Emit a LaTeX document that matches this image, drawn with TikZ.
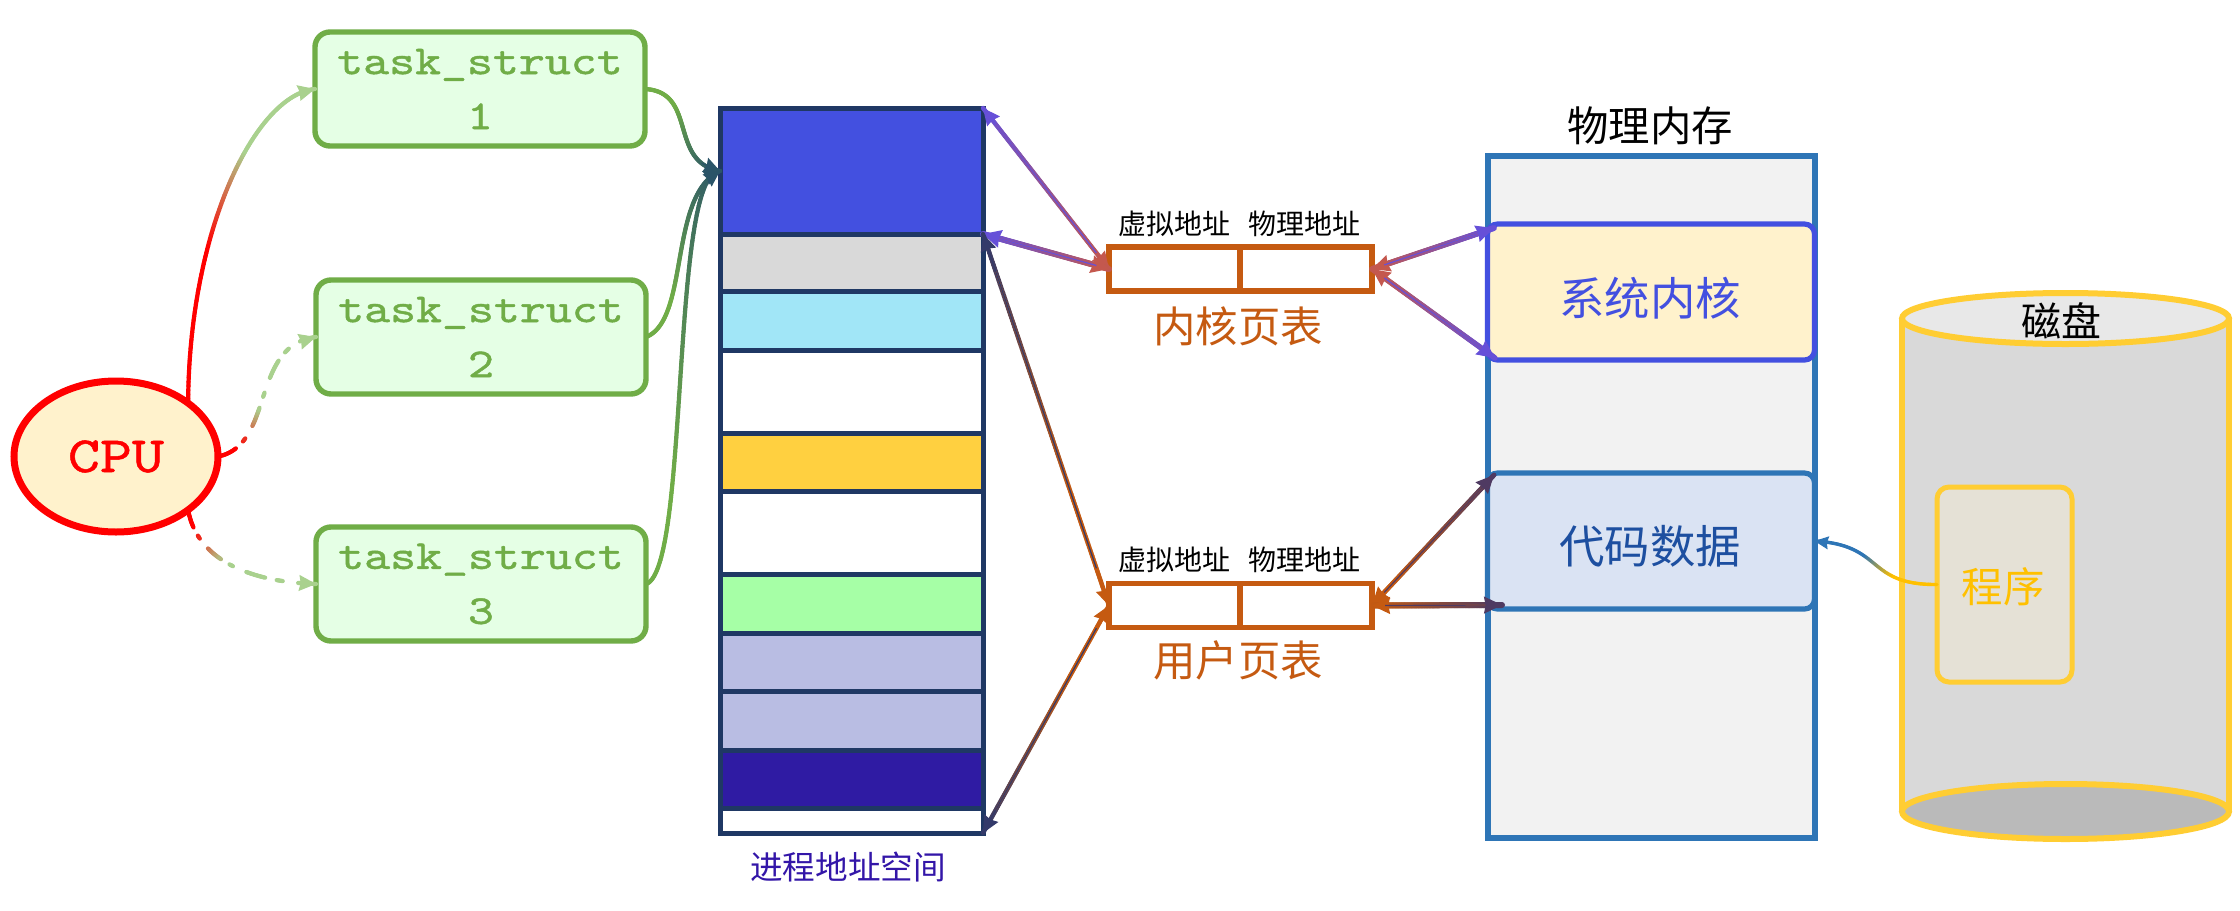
\documentclass[tikz,border=0pt]{standalone}
\usepackage{fontspec}
\setmainfont{Liberation Mono}
\newfontfamily\cjk{Noto Sans CJK SC}
\newfontfamily\slab[FakeStretch=1.2,FakeBold=1,Extension=.otf]{lmmono10-regular}
\usetikzlibrary{shapes.geometric,arrows.meta}
\definecolor{taskgreen}{HTML}{70AD47}
\definecolor{taskfill}{HTML}{E5FFE5}
\definecolor{lightgreen}{HTML}{A9D18E}
\definecolor{cpufill}{HTML}{FFF2CC}
\definecolor{navy}{HTML}{1F3864}
\definecolor{tealend}{HTML}{2A5468}
\definecolor{royal}{HTML}{4350E0}
\definecolor{sky}{HTML}{A1E6F7}
\definecolor{gold}{HTML}{FFD040}
\definecolor{mint}{HTML}{A6FFA6}
\definecolor{lav}{HTML}{B9BDE3}
\definecolor{indigo}{HTML}{2F1BA3}
\definecolor{rust}{HTML}{C55A11}
\definecolor{steel}{HTML}{2E75B6}
\definecolor{memfill}{HTML}{F2F2F2}
\definecolor{codefill}{HTML}{DAE3F3}
\definecolor{codetext}{HTML}{1D4FA0}
\definecolor{diskline}{HTML}{FFCD33}
\definecolor{amber}{HTML}{FFC000}
\definecolor{progfill}{HTML}{E5E1D6}
\definecolor{pinkred}{HTML}{C4584E}
\definecolor{violet}{HTML}{6650D8}
\definecolor{slate}{HTML}{333A6A}
\definecolor{plum}{HTML}{4F3A62}
\definecolor{labelblue}{HTML}{3316A8}
\def\gsteps{120}
% path, colour A, colour B, width, ramp from, ramp to, dash frequency (0 = solid)
\newcommand{\gradcurve}[7]{%
  \foreach \i in {1,...,\gsteps}{%
    \pgfmathsetmacro\ta{(\i-1)/\gsteps}%
    \pgfmathsetmacro\tb{\i/\gsteps}%
    \pgfmathsetmacro\pc{100*min(1,max(0,(\ta-#5)/(#6-#5)))}%
    \pgfmathsetmacro\uu{mod(\ta*#7,1)}%
    \pgfmathsetmacro\vis{(\uu<0.4 || (\uu>0.62 && \uu<0.72)) ? 1 : 0}%
    \ifdim\vis pt>0.5pt
      \path #1 coordinate[pos=\ta] (gA) coordinate[pos=\tb] (gB);
      \draw[color=#3!\pc!#2,line width=#4,line cap=round] (gA)--(gB);
    \fi
  }%
}
% path, pos behind the tip, pos of the tip, colour, tip length, tip width
\newcommand{\gradtip}[6]{%
  \path #1 coordinate[pos=#2] (gA) coordinate[pos=#3] (gB);
  \draw[color=#4,line width=.6pt,-{Stealth[length=#5,width=#6,inset=.8pt]}] (gA)--(gB);
}
% end A, end B, colour at A, colour at B, width, tip length, tip width, ramp from
\newcommand{\gradarrow}[8]{%
  \gradcurve{(#1) -- (#2)}{#3}{#4}{#5}{#8}{1}{0}
  \gradtip{(#1) -- (#2)}{.9}{0}{#3}{#6}{#7}
  \gradtip{(#1) -- (#2)}{.1}{1}{#4}{#6}{#7}
}
\tikzset{
  every node/.style={outer sep=0pt,inner sep=0pt},
  taskbox/.style={draw=taskgreen,fill=taskfill,line width=2.7pt,rounded corners=7.5pt,minimum width=165pt,minimum height=57pt,align=center,text=taskgreen,font=\slab\fontsize{20.6}{27.5}\selectfont},
  cell/.style={draw=navy,line width=2.5pt,minimum width=131.5pt},
  ptcell/.style={draw=rust,line width=2.8pt,minimum height=22pt,fill=white},
  addr/.style={font=\cjk\fontsize{14}{14}\selectfont,text=black},
  ptlabel/.style={font=\cjk\fontsize{21.2}{22}\selectfont,text=rust},
  membox/.style={line width=2.6pt,rounded corners=5pt,minimum width=163.5pt,minimum height=68pt},
  memtext/.style={font=\cjk\fontsize{22.7}{24}\selectfont},
}
\begin{document}
\begin{tikzpicture}[x=.5pt,y=-.5pt]
\useasboundingbox[fill=white] (0,0) rectangle (2240,911);
% CPU and tasks
\node[ellipse,draw=red,fill=cpufill,line width=3.5pt,minimum width=102pt,minimum height=75.5pt,text=red,font=\slab\fontsize{25.4}{28}\selectfont] (cpu) at (116,456.5) {CPU};
\node[taskbox] (t1) at (480,89) {task\_struct\\1};
\node[taskbox] (t2) at (481,337) {task\_struct\\2};
\node[taskbox] (t3) at (481,584) {task\_struct\\3};
% address space
\node[cell,fill=royal,minimum height=63pt] (s1) at (851.5,171) {};
\node[cell,fill=black!15,minimum height=28.5pt] (s2) at (851.5,262.5) {};
\node[cell,fill=sky,minimum height=29.5pt] (s3) at (851.5,320.5) {};
\node[cell,fill=white,minimum height=41.5pt] (s4) at (851.5,391.5) {};
\node[cell,fill=gold,minimum height=29pt] (s5) at (851.5,462) {};
\node[cell,fill=white,minimum height=41.5pt] (s6) at (851.5,532.5) {};
\node[cell,fill=mint,minimum height=29.5pt] (s7) at (851.5,603.5) {};
\node[cell,fill=lav,minimum height=29pt] (s8) at (851.5,662) {};
\node[cell,fill=lav,minimum height=29.5pt] (s9) at (851.5,720.5) {};
\node[cell,fill=indigo,minimum height=29pt] (s10) at (851.5,779) {};
\node[cell,fill=white,minimum height=12.5pt] (s11) at (851.5,820.5) {};
\node[font=\cjk\fontsize{16.3}{18}\selectfont,text=labelblue] (spcl) at (848,867) {进程地址空间};
% page tables
\node[ptcell,minimum width=65.5pt] (kv) at (1174.5,269) {};
\node[ptcell,minimum width=66pt] (kp) at (1306,269) {};
\node[ptcell,minimum width=65.5pt] (uv) at (1174.5,605.5) {};
\node[ptcell,minimum width=66pt] (up) at (1306,605.5) {};
\node[addr] (kva) at (1174,224) {虚拟地址};
\node[addr] (kpa) at (1304,224) {物理地址};
\node[addr] (uva) at (1174,560) {虚拟地址};
\node[addr] (upa) at (1304,560) {物理地址};
\node[ptlabel] (kl) at (1238,326) {内核页表};
\node[ptlabel] (ul) at (1238,660) {用户页表};
% physical memory
\node[font=\cjk\fontsize{20.7}{22}\selectfont,text=black] (meml) at (1650,126) {物理内存};
\node[draw=steel,fill=memfill,line width=3pt,minimum width=163.5pt,minimum height=341pt] (mem) at (1651.5,497) {};
\node[membox,draw=royal,fill=cpufill] (sys) at (1651,292) {};
\node[memtext,text=royal] (systxt) at (1650,298) {系统内核};
\node[membox,draw=steel,fill=codefill] (code) at (1651,541) {};
\node[memtext,text=codetext] (codetxt) at (1650,546) {代码数据};
\coordinate (sysNW) at (1494,228);
\coordinate (sysSW) at (1495,358);
\coordinate (codeNW) at (1494,475);
\coordinate (codeSW) at (1502,605);
% disk
\fill[black!15] (1902,318) rectangle (2229,812);
\draw[diskline,line width=3pt] (1902,318) -- (1902,812) (2229,318) -- (2229,812);
\node[ellipse,draw=diskline,fill=black!27,line width=3pt,minimum width=163.5pt,minimum height=27.5pt] (dbot) at (2065.5,811.5) {};
\node[ellipse,draw=diskline,fill=black!9,line width=3pt,minimum width=163.5pt,minimum height=25.5pt] (dtop) at (2065.5,318.5) {};
\node[font=\cjk\fontsize{20}{22}\selectfont,text=black] (dl) at (2061,321) {磁盘};
\node[draw=diskline,fill=progfill,line width=2.5pt,rounded corners=6pt,minimum width=67.5pt,minimum height=97.5pt] (prog) at (2004.5,584.5) {};
\node[text=amber,font=\cjk\fontsize{20.7}{22}\selectfont] (progtxt) at (2003,587) {程序};
% CPU to tasks
\coordinate (c1a) at (189,230); \coordinate (c1b) at (255,95);
\gradcurve{(cpu.north east) .. controls (c1a) and (c1b) .. (t1.west)}{red}{lightgreen}{2.1pt}{.33}{.6}{0}
\gradtip{(cpu.north east) .. controls (c1a) and (c1b) .. (t1.west)}{.93}{1}{lightgreen}{8.5pt}{8pt}
\coordinate (c2a) at (275,445); \coordinate (c2b) at (250,345);
\gradcurve{(cpu.east) .. controls (c2a) and (c2b) .. (t2.west)}{red}{lightgreen}{2.1pt}{.15}{.42}{3.33}
\gradtip{(cpu.east) .. controls (c2a) and (c2b) .. (t2.west)}{.9}{1}{lightgreen}{8.5pt}{8pt}
\coordinate (c3a) at (197,560); \coordinate (c3b) at (250,582);
\gradcurve{(cpu.south east) .. controls (c3a) and (c3b) .. (t3.west)}{red}{lightgreen}{2.1pt}{.15}{.45}{3.33}
\gradtip{(cpu.south east) .. controls (c3a) and (c3b) .. (t3.west)}{.9}{1}{lightgreen}{8.5pt}{8pt}
% tasks to address space
\coordinate (d1a) at (698,92); \coordinate (d1b) at (668,162);
\gradcurve{(t1.east) .. controls (d1a) and (d1b) .. (s1.west)}{taskgreen}{tealend}{2.1pt}{.3}{1}{0}
\gradtip{(t1.east) .. controls (d1a) and (d1b) .. (s1.west)}{.85}{1}{tealend}{8pt}{7.5pt}
\coordinate (d2a) at (690,320); \coordinate (d2b) at (668,195);
\gradcurve{(t2.east) .. controls (d2a) and (d2b) .. (s1.west)}{taskgreen}{tealend}{2.1pt}{.3}{1}{0}
\gradtip{(t2.east) .. controls (d2a) and (d2b) .. (s1.west)}{.9}{1}{tealend}{8pt}{7.5pt}
\coordinate (d3a) at (690,570); \coordinate (d3b) at (670,170);
\gradcurve{(t3.east) .. controls (d3a) and (d3b) .. (s1.west)}{taskgreen}{tealend}{2.1pt}{.3}{1}{0}
\gradtip{(t3.east) .. controls (d3a) and (d3b) .. (s1.west)}{.94}{1}{tealend}{8pt}{7.5pt}
% page tables to address space
\gradarrow{kv.west}{s1.north east}{pinkred}{violet}{2.2pt}{8.5pt}{8pt}{0}
\gradarrow{kv.west}{s2.north east}{pinkred}{violet}{3pt}{9pt}{9pt}{0}
\gradarrow{uv.west}{s2.north east}{rust}{slate}{2.2pt}{8.5pt}{8pt}{.3}
\gradarrow{uv.west}{s11.south east}{rust}{slate}{2.2pt}{8.5pt}{8pt}{.3}
% page tables to physical memory
\gradarrow{kp.east}{sysNW}{pinkred}{violet}{2.9pt}{9pt}{8.5pt}{0}
\gradarrow{kp.east}{sysSW}{pinkred}{violet}{2.7pt}{9pt}{8.5pt}{0}
\gradarrow{up.east}{codeNW}{rust}{plum}{2.4pt}{9pt}{8.5pt}{.15}
\gradarrow{up.east}{codeSW}{rust}{plum}{3pt}{9pt}{8.5pt}{0}
% program to code
\coordinate (e1) at (1865,585); \coordinate (e2) at (1885,545);
\gradcurve{(prog.west) .. controls (e1) and (e2) .. (code.east)}{amber}{steel}{1.7pt}{.3}{.65}{0}
\gradtip{(prog.west) .. controls (e1) and (e2) .. (code.east)}{.88}{1}{steel}{7pt}{6.5pt}
\end{tikzpicture}
\end{document}
